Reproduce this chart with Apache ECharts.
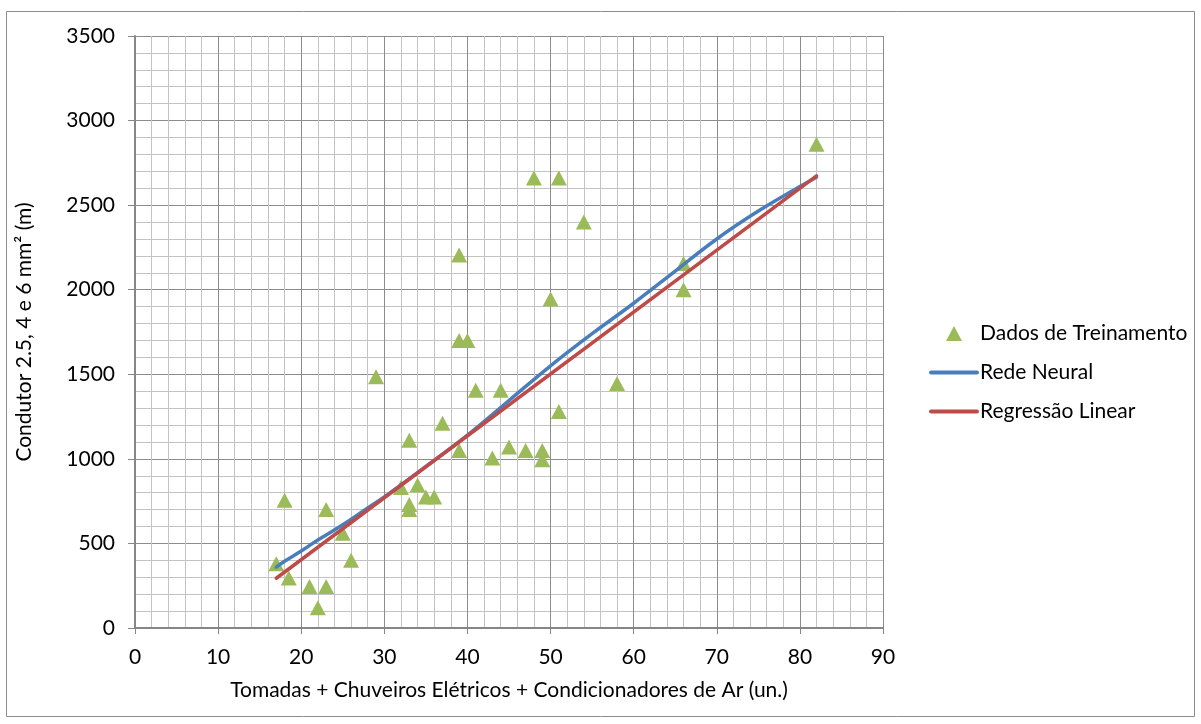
<!DOCTYPE html>
<html>
<head>
<meta charset="utf-8">
<script src="https://cdn.jsdelivr.net/npm/echarts@6/dist/echarts.min.js"></script>
<style>
html,body{margin:0;padding:0;background:#fff;}
#chart{width:1201px;height:724px;}
</style>
</head>
<body>
<div id="chart"></div>
<script>
// Training data (x = outlets + showers + AC units, y = conductor length in m)
const trainX = [17, 18, 18.5, 21, 22, 23, 23, 25, 26, 29, 32, 33, 33, 34, 35, 36, 33, 37, 39, 39, 39, 40, 41, 44, 43, 45, 47, 49, 49, 48, 51, 54, 50, 58, 51, 66, 66, 82];
const trainY = [380, 755, 295, 245, 120, 245, 700, 560, 400, 1485, 830, 730, 700, 845, 775, 775, 1110, 1210, 1050, 2205, 1700, 1700, 1405, 1405, 1005, 1070, 1050, 1050, 995, 2660, 2660, 2400, 1945, 1445, 1280, 2155, 2000, 2860];

// Neural network curve
const nnX = [17, 18, 20, 22, 25, 28, 30, 35, 40, 45, 50, 55, 60, 65, 70, 75, 80, 82];
const nnY = [360, 395, 455, 520, 610, 710, 775, 955, 1140, 1345, 1550, 1740, 1920, 2110, 2300, 2465, 2610, 2665];

// Linear regression line
const lrX = [17, 82];
const lrY = [294, 2673];

const xTicks = [0, 10, 20, 30, 40, 50, 60, 70, 80, 90];
const yTicks = [0, 500, 1000, 1500, 2000, 2500, 3000, 3500];

const seriesNames = ['Dados de Treinamento', 'Rede Neural', 'Regressão Linear'];
const xTitle = 'Tomadas + Chuveiros Elétricos + Condicionadores de Ar (un.)';
const yTitle = 'Condutor 2.5, 4 e 6 mm² (m)';

const zip = (a, b) => a.map((v, i) => [v, b[i]]);
const FONT = 'Lato';
const FS = 21;

const chart = echarts.init(document.getElementById('chart'), null, {renderer: 'canvas'});
chart.setOption({
  animation: false,
  backgroundColor: '#ffffff',
  textStyle: {fontFamily: FONT},
  graphic: [{
    type: 'rect',
    shape: {x: 6.5, y: 11.5, width: 1188, height: 705},
    style: {fill: 'none', stroke: '#8c8c8c', lineWidth: 1},
    silent: true, z: -10
  }],
  grid: {left: 135, right: 318, top: 36, bottom: 96, containLabel: false},
  xAxis: {
    type: 'value', min: xTicks[0], max: xTicks[xTicks.length - 1], interval: 10,
    name: xTitle, nameLocation: 'middle', nameGap: 52,
    nameTextStyle: {fontFamily: FONT, fontSize: FS, color: '#000'},
    axisLine: {show: true, onZero: false, lineStyle: {color: '#868686', width: 2}},
    axisTick: {show: true, length: 6, inside: false, lineStyle: {color: '#868686', width: 1}},
    axisLabel: {fontFamily: FONT, fontSize: FS, color: '#000', margin: 19,
      formatter: v => String(v)},
    splitLine: {show: true, lineStyle: {color: '#8c8c8c', width: 1}},
    minorTick: {show: false, splitNumber: 5},
    minorSplitLine: {show: true, lineStyle: {color: '#c3c3c3', width: 1}}
  },
  yAxis: {
    type: 'value', min: yTicks[0], max: yTicks[yTicks.length - 1], interval: 500,
    name: yTitle, nameLocation: 'middle', nameGap: 100, nameRotate: 90,
    nameTextStyle: {fontFamily: FONT, fontSize: FS, color: '#000'},
    axisLine: {show: true, onZero: false, lineStyle: {color: '#868686', width: 2}},
    axisTick: {show: true, length: 7, inside: false, lineStyle: {color: '#868686', width: 1}},
    axisLabel: {fontFamily: FONT, fontSize: FS, color: '#000', margin: 20,
      formatter: v => String(v)},
    splitLine: {show: true, lineStyle: {color: '#8c8c8c', width: 1}},
    minorTick: {show: false, splitNumber: 5},
    minorSplitLine: {show: true, lineStyle: {color: '#c3c3c3', width: 1}}
  },
  legend: {
    orient: 'vertical', left: 924, top: 318, itemGap: 18,
    itemWidth: 50, itemHeight: 15, symbolKeepAspect: true,
    textStyle: {fontFamily: FONT, fontSize: FS, color: '#000', padding: [0, 0, 0, -4]},
    data: [
      {name: seriesNames[0], icon: 'path://M0,15 L8,0 L16,15 Z', itemStyle: {color: '#9bbb59'}},
      {name: seriesNames[1], icon: 'path://M2,0 L48,0 A2,2 0 0 1 48,4 L2,4 A2,2 0 0 1 2,0 Z', itemStyle: {color: '#4a7ebb'}},
      {name: seriesNames[2], icon: 'path://M2,0 L48,0 A2,2 0 0 1 48,4 L2,4 A2,2 0 0 1 2,0 Z', itemStyle: {color: '#be4b48'}}
    ]
  },
  series: [
    {
      name: seriesNames[0], type: 'scatter', data: zip(trainX, trainY),
      symbol: 'triangle', symbolSize: [16, 15],
      itemStyle: {color: '#9bbb59', opacity: 1}, z: 3
    },
    {
      name: seriesNames[1], type: 'line', data: zip(nnX, nnY),
      smooth: 0.4, showSymbol: false, symbol: 'none',
      lineStyle: {color: '#4a7ebb', width: 3.5, cap: 'round'},
      itemStyle: {color: '#4a7ebb'}, z: 4
    },
    {
      name: seriesNames[2], type: 'line', data: zip(lrX, lrY),
      showSymbol: false, symbol: 'none',
      lineStyle: {color: '#be4b48', width: 3.5, cap: 'round'},
      itemStyle: {color: '#be4b48'}, z: 5
    }
  ]
});
</script>
</body>
</html>
